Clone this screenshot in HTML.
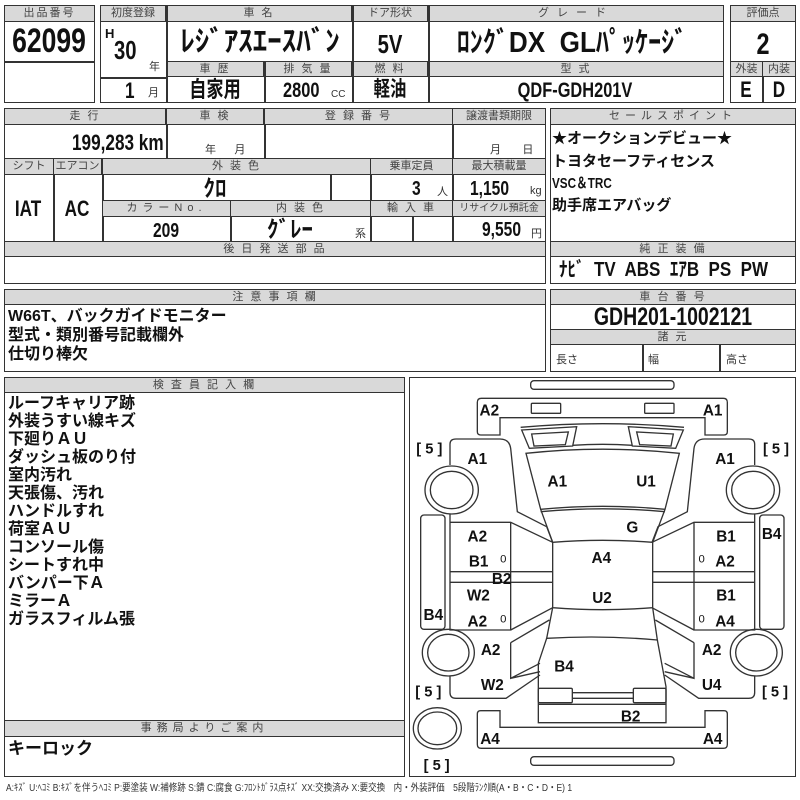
<!DOCTYPE html>
<html><head><meta charset="utf-8"><style>
*{margin:0;padding:0;box-sizing:border-box}
body{width:800px;height:800px;background:#fff;position:relative;overflow:hidden;font-family:"Liberation Sans","Noto Sans CJK JP",sans-serif;color:#111}
.b{position:absolute;border:1.5px solid #333;background:transparent}
.h{position:absolute;background:#d9d9d9;border:1px solid #333;color:#444;font-size:11px;text-align:center;letter-spacing:2px;line-height:15px;white-space:nowrap;overflow:hidden}
.t{position:absolute;white-space:nowrap;font-weight:bold;line-height:1}
.v{position:absolute;background:#333}
.c{transform:scaleX(0.78);transform-origin:left center}
.cc{transform:translateX(-50%) scaleX(0.78);transform-origin:center center}
.kk{transform:translateX(-50%) scaleX(1.0);transform-origin:center center}
.s{position:absolute;white-space:nowrap;font-size:11px;color:#333;line-height:1}
</style></head><body>
<!-- Top box 1 -->
<div class="b" style="left:4px;top:5px;width:91px;height:98px"></div>
<div class="h" style="left:4px;top:5px;width:91px;height:17px">出品番号</div>
<div class="v" style="left:4px;top:61px;width:91px;height:1.5px"></div>
<div class="t cc" style="left:49px;top:24px;font-size:34px">62099</div>
<!-- Top box 2 -->
<div class="b" style="left:100px;top:5px;width:624px;height:98px"></div>
<div class="h" style="left:100px;top:5px;width:66px;height:17px;letter-spacing:0">初度登録</div>
<div class="h" style="left:166px;top:5px;width:186px;height:17px">車 名</div>
<div class="h" style="left:352px;top:5px;width:76px;height:17px;letter-spacing:0">ドア形状</div>
<div class="h" style="left:428px;top:5px;width:296px;height:17px;letter-spacing:8px">グレード</div>
<div class="h" style="left:166px;top:61px;width:98px;height:16px">車 歴</div>
<div class="h" style="left:264px;top:61px;width:88px;height:16px">排 気 量</div>
<div class="h" style="left:352px;top:61px;width:76px;height:16px">燃 料</div>
<div class="h" style="left:428px;top:61px;width:296px;height:16px">型 式</div>
<div class="v" style="left:166px;top:5px;width:1.5px;height:98px"></div>
<div class="v" style="left:352px;top:5px;width:1.5px;height:98px"></div>
<div class="v" style="left:428px;top:5px;width:1.5px;height:98px"></div>
<div class="v" style="left:264px;top:61px;width:1.5px;height:42px"></div>
<div class="v" style="left:100px;top:77px;width:66px;height:1.5px"></div>
<div class="t" style="left:105px;top:27px;font-size:13px">H</div>
<div class="t c" style="left:114px;top:37px;font-size:26px">30</div>
<div class="s" style="left:149px;top:62px;font-size:11px">年</div>
<div class="t c" style="left:125px;top:80px;font-size:22px">1</div>
<div class="s" style="left:148px;top:88px">月</div>
<div class="t kk" style="left:260px;top:28px;font-size:29px">ﾚｼﾞｱｽｴｰｽﾊﾞﾝ</div>
<div class="t cc" style="left:390px;top:31px;font-size:26px">5V</div>
<div class="t kk" style="left:572px;top:29px;font-size:29px;transform:translateX(-50%) scaleX(0.9)">ﾛﾝｸﾞDX&nbsp; GLﾊﾟｯｹｰｼﾞ</div>
<div class="t cc" style="left:215px;top:79px;font-size:22px">自家用</div>
<div class="t c" style="left:283px;top:80px;font-size:21px">2800</div>
<div class="s" style="left:331px;top:90px;font-size:10px">CC</div>
<div class="t cc" style="left:390px;top:79px;font-size:21px">軽油</div>
<div class="t cc" style="left:575px;top:80px;font-size:21px">QDF-GDH201V</div>
<!-- Top box 3 -->
<div class="b" style="left:730px;top:5px;width:66px;height:98px"></div>
<div class="h" style="left:730px;top:5px;width:66px;height:17px;letter-spacing:0">評価点</div>
<div class="h" style="left:730px;top:61px;width:33px;height:16px;letter-spacing:0">外装</div>
<div class="h" style="left:762px;top:61px;width:34px;height:16px;letter-spacing:0">内装</div>
<div class="v" style="left:762px;top:77px;width:1.5px;height:26px"></div>
<div class="t cc" style="left:763px;top:30px;font-size:30px">2</div>
<div class="t cc" style="left:746px;top:79px;font-size:22px">E</div>
<div class="t cc" style="left:779px;top:79px;font-size:22px">D</div>

<!-- Section 2 left -->
<div class="b" style="left:4px;top:108px;width:542px;height:176px"></div>
<div class="h" style="left:4px;top:108px;width:162px;height:17px">走 行</div>
<div class="h" style="left:166px;top:108px;width:98px;height:17px">車 検</div>
<div class="h" style="left:264px;top:108px;width:189px;height:17px">登 録 番 号</div>
<div class="h" style="left:452px;top:108px;width:94px;height:17px;letter-spacing:0">譲渡書類期限</div>
<div class="v" style="left:166px;top:124px;width:1.5px;height:35px"></div>
<div class="v" style="left:264px;top:124px;width:1.5px;height:35px"></div>
<div class="v" style="left:452px;top:124px;width:1.5px;height:118px"></div>
<div class="t c" style="left:72px;top:132px;font-size:22px">199,283 km</div>
<div class="s" style="left:205px;top:145px">年&nbsp;&nbsp;&nbsp;&nbsp;&nbsp;&nbsp;月</div>
<div class="s" style="left:490px;top:145px">月&nbsp;&nbsp;&nbsp;&nbsp;&nbsp;&nbsp;&nbsp;日</div>
<div class="h" style="left:4px;top:158px;width:50px;height:17px;letter-spacing:0">シフト</div>
<div class="h" style="left:53px;top:158px;width:49px;height:17px;letter-spacing:0">エアコン</div>
<div class="h" style="left:102px;top:158px;width:269px;height:17px">外 装 色</div>
<div class="h" style="left:370px;top:158px;width:83px;height:17px;letter-spacing:0">乗車定員</div>
<div class="h" style="left:452px;top:158px;width:94px;height:17px;letter-spacing:0">最大積載量</div>
<div class="v" style="left:53px;top:175px;width:1.5px;height:67px"></div>
<div class="v" style="left:102px;top:175px;width:1.5px;height:67px"></div>
<div class="v" style="left:330px;top:175px;width:1.5px;height:26px"></div>
<div class="v" style="left:370px;top:175px;width:1.5px;height:67px"></div>
<div class="v" style="left:412px;top:216px;width:1.5px;height:26px"></div>
<div class="t cc" style="left:28px;top:198px;font-size:22px">IAT</div>
<div class="t cc" style="left:77px;top:198px;font-size:22px">AC</div>
<div class="t kk" style="left:215px;top:177px;font-size:23px">ｸﾛ</div>
<div class="t c" style="left:412px;top:179px;font-size:20px">3</div>
<div class="s" style="left:437px;top:187px">人</div>
<div class="t c" style="left:470px;top:179px;font-size:20px">1,150</div>
<div class="s" style="left:530px;top:186px">kg</div>
<div class="h" style="left:102px;top:200px;width:129px;height:17px;letter-spacing:5px">カラーNo.</div>
<div class="h" style="left:230px;top:200px;width:141px;height:17px">内 装 色</div>
<div class="h" style="left:370px;top:200px;width:83px;height:17px">輸 入 車</div>
<div class="h" style="left:452px;top:200px;width:94px;height:17px;letter-spacing:0;font-size:10px">リサイクル預託金</div>
<div class="v" style="left:230px;top:216px;width:1.5px;height:26px"></div>
<div class="t cc" style="left:166px;top:221px;font-size:20px">209</div>
<div class="t kk" style="left:290px;top:218px;font-size:23px">ｸﾞﾚｰ</div>
<div class="s" style="left:355px;top:229px">系</div>
<div class="t c" style="left:482px;top:220px;font-size:20px">9,550</div>
<div class="s" style="left:531px;top:229px">円</div>
<div class="h" style="left:4px;top:241px;width:542px;height:16px">後 日 発 送 部 品</div>
<!-- Section 2 right -->
<div class="b" style="left:550px;top:108px;width:246px;height:176px"></div>
<div class="h" style="left:550px;top:108px;width:246px;height:17px;letter-spacing:5px">セールスポイント</div>
<div class="t" style="left:552px;top:131px;font-size:15px">★オークションデビュー★</div>
<div class="t" style="left:552px;top:154px;font-size:15px">トヨタセーフティセンス</div>
<div class="t c" style="left:552px;top:176px;font-size:15px">VSC＆TRC</div>
<div class="t" style="left:552px;top:198px;font-size:15px">助手席エアバッグ</div>
<div class="h" style="left:550px;top:241px;width:246px;height:16px">純 正 装 備</div>
<div class="t" style="left:559px;top:260px;font-size:20px;transform:scaleX(0.85);transform-origin:left center">ﾅﾋﾞ&nbsp; TV&nbsp; ABS&nbsp; ｴｱB&nbsp; PS&nbsp; PW</div>

<!-- Section 3 -->
<div class="b" style="left:4px;top:289px;width:542px;height:83px"></div>
<div class="h" style="left:4px;top:289px;width:542px;height:16px">注 意 事 項 欄</div>
<div class="t" style="left:8px;top:309px;font-size:16px">W66T、バックガイドモニター</div>
<div class="t" style="left:8px;top:328px;font-size:16px">型式・類別番号記載欄外</div>
<div class="t" style="left:8px;top:347px;font-size:16px">仕切り棒欠</div>
<div class="b" style="left:550px;top:289px;width:246px;height:83px"></div>
<div class="h" style="left:550px;top:289px;width:246px;height:16px">車 台 番 号</div>
<div class="t cc" style="left:673px;top:305px;font-size:25px">GDH201-1002121</div>
<div class="h" style="left:550px;top:329px;width:246px;height:16px">諸 元</div>
<div class="v" style="left:642px;top:345px;width:1.5px;height:27px"></div>
<div class="v" style="left:719px;top:345px;width:1.5px;height:27px"></div>
<div class="s" style="left:556px;top:355px">長さ</div>
<div class="s" style="left:648px;top:355px">幅</div>
<div class="s" style="left:726px;top:355px">高さ</div>

<!-- Section 4 left -->
<div class="b" style="left:4px;top:377px;width:401px;height:400px"></div>
<div class="h" style="left:4px;top:377px;width:401px;height:16px">検 査 員 記 入 欄</div>
<div class="t" style="left:8px;top:395px;font-size:16px;line-height:18px;font-weight:bold">ルーフキャリア跡<br>外装うすい線キズ<br>下廻りＡＵ<br>ダッシュ板のり付<br>室内汚れ<br>天張傷、汚れ<br>ハンドルすれ<br>荷室ＡＵ<br>コンソール傷<br>シートすれ中<br>バンパー下Ａ<br>ミラーＡ<br>ガラスフィルム張</div>
<div class="h" style="left:4px;top:720px;width:401px;height:17px;letter-spacing:5px">事務局よりご案内</div>
<div class="t" style="left:8px;top:740px;font-size:17px">キーロック</div>

<!-- Diagram -->
<div class="b" style="left:409px;top:377px;width:387px;height:400px"></div>
<svg style="position:absolute;left:400px;top:370px" width="400" height="430" viewBox="0 0 1200 1290">
<g fill="none" stroke="#333" stroke-width="4">
<rect x="392" y="32" width="430" height="26" rx="10"/>
<rect x="392" y="1160" width="430" height="26" rx="10"/>
<path d="M232,97 Q232,85 244,85 L970,85 Q982,85 982,97 L982,185 Q982,195 972,195 L915,195 L915,143 L300,143 L300,195 L242,195 Q232,195 232,185 Z"/>
<rect x="394" y="100" width="88" height="30" rx="3"/>
<rect x="734" y="100" width="88" height="30" rx="3"/>
<path d="M232,1032 Q232,1022 242,1022 L300,1022 L300,1072 L915,1072 L915,1022 L972,1022 Q982,1022 982,1032 L982,1123 Q982,1135 970,1135 L244,1135 Q232,1135 232,1123 Z"/>
<path d="M362,172 Q608,150 852,172"/>
<path d="M365,180 L530,170 L518,228 L388,235 Z"/>
<path d="M395,192 L505,186 L496,224 L402,228 Z"/>
<path d="M850,180 L685,170 L697,228 L827,235 Z"/>
<path d="M820,192 L710,186 L719,224 L813,228 Z"/>
<path d="M518,226 Q608,220 697,226"/>
<path d="M378,250 Q608,225 838,250 L795,418 Q608,400 422,418 Z"/>
<path d="M422,425 Q608,408 795,425"/>
<path d="M422,418 L458,517 Q608,505 758,517 L795,418"/>
<path d="M458,517 L458,713 Q608,725 758,713 L758,517"/>
<path d="M458,713 L440,805 Q608,795 772,810 L758,713"/>
<path d="M440,805 L415,880 L415,1058 L798,1058 L798,950 L772,810"/>
<rect x="415" y="955" width="102" height="43" rx="4"/>
<rect x="700" y="955" width="98" height="43" rx="4"/>
<path d="M517,968 H700 M517,985 H700 M415,1003 H798"/>
<g id="side">
<path d="M150,285 V222 Q150,207 168,207 H300 Q328,207 332,235 L352,425 L440,470 L458,517"/>
<path d="M150,432 V457 H332 L458,517 M150,457 V780 H332 V457 M150,605 H458 M150,637 H458 M332,780 L458,713"/>
<ellipse cx="155" cy="360" rx="80" ry="72"/>
<ellipse cx="155" cy="360" rx="64" ry="56"/>
<rect x="62" y="435" width="73" height="343" rx="10"/>
<ellipse cx="145" cy="848" rx="78" ry="70"/>
<ellipse cx="145" cy="848" rx="62" ry="55"/>
<path d="M332,818 L448,750 M332,818 V925 L420,880 M332,925 L420,905 M150,918 V968 Q150,985 168,985 H318 L420,915"/>
</g>
<use href="#side" transform="translate(1214,0) scale(-1,1)"/>
<ellipse cx="112" cy="1075" rx="72" ry="62"/>
<ellipse cx="112" cy="1075" rx="58" ry="49"/>
</g>
<g font-family="Liberation Sans, sans-serif" font-weight="bold" font-size="46" fill="#111" text-anchor="middle">
<text x="268" y="137">A2</text><text x="938" y="137">A1</text>
<text x="232" y="282">A1</text><text x="975" y="282">A1</text>
<text x="472" y="349">A1</text><text x="738" y="349">U1</text>
<text x="697" y="487">G</text>
<text x="232" y="514">A2</text><text x="236" y="589">B1</text>
<text x="305" y="642">B2</text><text x="235" y="692">W2</text>
<text x="232" y="769">A2</text><text x="100" y="750">B4</text>
<text x="604" y="579">A4</text><text x="606" y="699">U2</text>
<text x="978" y="514">B1</text><text x="975" y="589">A2</text>
<text x="1115" y="507">B4</text><text x="978" y="692">B1</text>
<text x="975" y="769">A4</text>
<text x="272" y="855">A2</text><text x="277" y="960">W2</text>
<text x="935" y="855">A2</text><text x="935" y="960">U4</text>
<text x="492" y="904">B4</text><text x="692" y="1055">B2</text>
<text x="270" y="1122">A4</text><text x="938" y="1122">A4</text>
</g>
<g font-family="Liberation Sans, sans-serif" font-size="34" fill="#111" text-anchor="middle">
<text x="310" y="578">0</text><text x="310" y="758">0</text>
<text x="905" y="578">0</text><text x="905" y="758">0</text>
</g>
<g font-family="Liberation Sans, sans-serif" font-size="44" fill="#111" text-anchor="middle" font-weight="bold">
<text x="88" y="250" xml:space="preserve">[ 5 ]</text>
<text x="1128" y="250" xml:space="preserve">[ 5 ]</text>
<text x="85" y="980" xml:space="preserve">[ 5 ]</text>
<text x="1125" y="980" xml:space="preserve">[ 5 ]</text>
<text x="110" y="1200" xml:space="preserve">[ 5 ]</text>
</g>
</svg>
<div class="s" style="left:6px;top:784px;font-size:10px;transform:scaleX(0.85);transform-origin:left">A:ｷｽﾞ U:ﾍｺﾐ B:ｷｽﾞを伴うﾍｺﾐ P:要塗装 W:補修跡 S:錆 C:腐食 G:ﾌﾛﾝﾄｶﾞﾗｽ点ｷｽﾞ XX:交換済み X:要交換　内・外装評価　5段階ﾗﾝｸ順(A・B・C・D・E) 1</div>
</body></html>
